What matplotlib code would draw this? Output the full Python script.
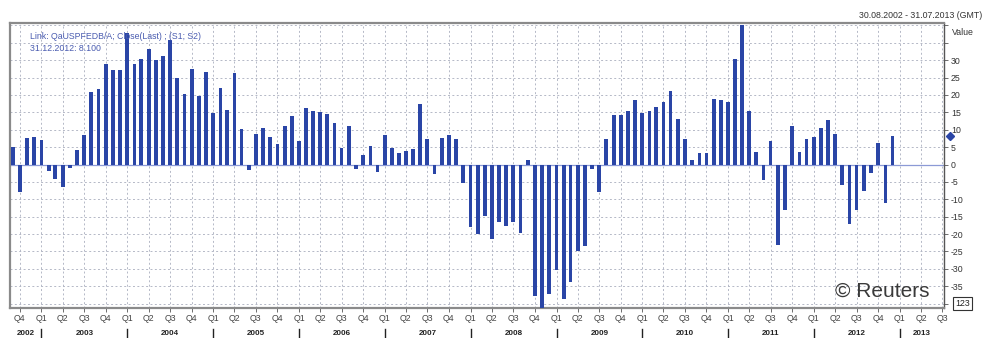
import matplotlib
matplotlib.use("Agg")
import matplotlib.pyplot as plt
import pandas as pd

plt.rcParams["font.family"] = ["Liberation Sans", "DejaVu Sans"]

# monthly values, Sep 2002 .. Dec 2012
values = [
    5.0, -7.9, 7.7, 8.0, 7.0, -1.9, -4.3, -6.5, -1.0, 4.1, 8.6, 20.8,
    21.8, 29.0, 27.3, 27.3, 37.9, 29.0, 30.2, 33.1, 30.0, 31.2, 35.8, 24.8,
    20.2, 27.6, 19.8, 26.6, 14.7, 22.1, 15.8, 26.2, 10.1, -1.7, 8.9, 10.5,
    7.9, 5.8, 11.2, 13.9, 6.7, 16.3, 15.5, 15.0, 14.5, 12.0, 4.7, 11.2,
    -1.4, 2.8, 5.3, -2.1, 8.6, 4.7, 3.4, 3.9, 4.5, 17.5, 7.4, -2.7,
    7.6, 8.4, 7.4, -5.3, -18.1, -20.0, -14.8, -21.3, -16.5, -17.6, -16.5, -19.8,
    1.4, -37.8, -41.5, -37.3, -30.4, -38.7, -33.9, -24.8, -23.4, -1.4, -7.9, 7.4,
    14.3, 14.3, 15.5, 18.6, 14.8, 15.5, 16.5, 17.9, 21.0, 13.1, 7.3, 1.2,
    3.3, 3.3, 18.9, 18.6, 17.9, 30.4, 40.0, 15.5, 3.5, -4.4, 6.7, -23.0,
    -13.2, 11.2, 3.7, 7.3, 7.9, 10.5, 12.8, 8.8, -6.0, -17.1, -13.2, -7.7,
    -2.5, 6.1, -11.1, 8.1,
]
months = pd.date_range("2002-09-01", periods=len(values), freq="MS")
years = list(range(2002, 2014))
y_ticks = list(range(-40, 41, 5))

bar_color = "#2a45a6"
grid_color = "#b4b8c6"
y_lo, y_hi = -41.1, 40.6

fig = plt.figure(figsize=(9.85, 3.38), dpi=100)
ax = fig.add_axes([10 / 985, 1 - 307.5 / 338, 934 / 985, 284.2 / 338])

x_start = pd.Timestamp("2002-08-20")
x_end = pd.Timestamp("2013-07-08")

ax.bar(months, values, width=16, color=bar_color, zorder=3)
ax.axhline(0, color="#8c9ad6", lw=0.9, zorder=2)

ax.set_xlim(x_start, x_end)
ax.set_ylim(y_lo, y_hi)

# grid: quarters on x, every 5 on y
quarters = pd.date_range("2002-10-01", "2013-07-01", freq="QS")
ax.set_xticks(quarters)
ax.set_xticklabels(["Q%d" % ((d.month - 1) // 3 + 1) for d in quarters],
                   fontsize=6.3, color="#444444")
ax.tick_params(axis="x", length=3, width=0.6, color="#555555", pad=2)
ax.set_yticks(y_ticks)
ax.yaxis.tick_right()
ax.set_yticklabels([str(v) if -35 <= v <= 30 else "" for v in y_ticks],
                   fontsize=6.3, color="#333333")
ax.tick_params(axis="y", length=3, width=0.6, color="#555555", pad=2)
ax.grid(True, color=grid_color, lw=0.7, linestyle=(0, (2, 2.5)), zorder=0)

for s in ["left", "top", "bottom"]:
    ax.spines[s].set_color("#8a8a8a")
    ax.spines[s].set_linewidth(1.6)
ax.spines["right"].set_color("#555555")
ax.spines["right"].set_linewidth(1.0)

# year separators and labels under quarter labels
trans = ax.get_xaxis_transform()
for yr in years:
    jan = pd.Timestamp(f"{yr}-01-01")
    if yr > 2002:
        ax.plot([jan, jan], [-0.075, -0.11], transform=trans, color="#222222",
                lw=1.0, clip_on=False)
    a = max(jan, x_start)
    b = min(pd.Timestamp(f"{yr + 1}-01-01"), x_end)
    mid = a + (b - a) / 2
    ax.text(mid, -0.092, str(yr), transform=trans, ha="center", va="center",
            fontsize=5.8, fontweight="bold", color="#222222")

# right side extras
ax.text(1.008, 0.966, "Value", transform=ax.transAxes, fontsize=6.3,
        color="#333333", ha="left", va="center")
ax.text(1.012, (-40 - y_lo) / (y_hi - y_lo), "123", transform=ax.transAxes,
        fontsize=6.3, color="#222222", ha="left", va="center",
        bbox=dict(boxstyle="square,pad=0.2", fc="white", ec="#333333", lw=0.8))
ax.plot([1.006], [(values[-1] - y_lo) / (y_hi - y_lo)], marker="D", ms=4,
        color=bar_color, transform=ax.transAxes, clip_on=False, zorder=5)

# header texts
ax.text(0.021, 0.955, "Link: QaUSPFEDB/A; Close(Last) ; (S1; S2)",
        transform=ax.transAxes, fontsize=6.3, color="#4a5cb0", va="center", zorder=4)
ax.text(0.021, 0.912, "31.12.2012: 8.100", transform=ax.transAxes,
        fontsize=6.3, color="#4a5cb0", va="center", zorder=4)
fig.text(982 / 985, 1 - 15 / 338, "30.08.2002 - 31.07.2013 (GMT)",
         fontsize=6.3, color="#333333", ha="right", va="center")
ax.text(0.984, 0.058, "\u00a9 Reuters", transform=ax.transAxes, fontsize=15,
        color="#3a3a3a", ha="right", va="center", zorder=4)

fig.savefig("out.png", dpi=100)
